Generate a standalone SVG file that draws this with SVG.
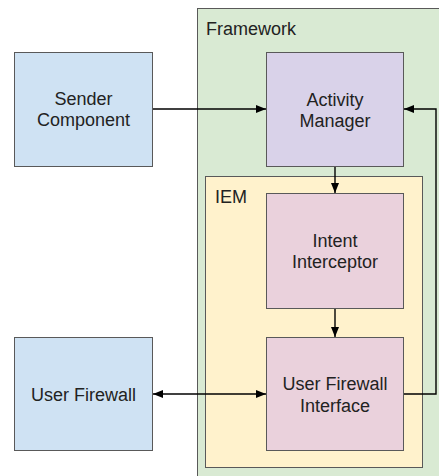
<svg xmlns="http://www.w3.org/2000/svg" width="439" height="476" viewBox="0 0 439 476">
  <style>
    .box { stroke: #595959; stroke-width: 1; }
    .label { font-family: "Liberation Sans", Arial, sans-serif; font-size: 18px; fill: #222; }
    .mid { text-anchor: middle; }
    .wire { fill: none; stroke: #000; stroke-width: 1.4; }
  </style>
  <defs>
    <marker id="head" viewBox="0 0 10 8" refX="10" refY="4" markerWidth="10" markerHeight="8" markerUnits="userSpaceOnUse" orient="auto-start-reverse">
      <path d="M0,0 L10,4 L0,8 Z" fill="#000"/>
    </marker>
  </defs>

  <rect width="439" height="476" fill="#fff"/>

  <g id="framework">
    <rect class="box" x="197.5" y="8.5" width="260" height="480" fill="#d9ead3"/>
    <text class="label" x="206" y="35">Framework</text>
  </g>

  <g id="iem">
    <rect class="box" x="205.5" y="176.5" width="217" height="291" fill="#fff2cc"/>
    <text class="label" x="215" y="203">IEM</text>
  </g>

  <g id="sender-component">
    <rect class="box" x="14.5" y="52.5" width="138" height="114" fill="#cfe2f3"/>
    <text class="label mid" x="83.5" y="105">Sender</text>
    <text class="label mid" x="83.5" y="126">Component</text>
  </g>

  <g id="activity-manager">
    <rect class="box" x="266.5" y="52.5" width="137" height="114" fill="#d9d2e9"/>
    <text class="label mid" x="335" y="106">Activity</text>
    <text class="label mid" x="335" y="127">Manager</text>
  </g>

  <g id="intent-interceptor">
    <rect class="box" x="266.5" y="193.5" width="137" height="115" fill="#ead1dc"/>
    <text class="label mid" x="335" y="247">Intent</text>
    <text class="label mid" x="335" y="268">Interceptor</text>
  </g>

  <g id="user-firewall-interface">
    <rect class="box" x="266.5" y="337.5" width="137" height="113" fill="#ead1dc"/>
    <text class="label mid" x="335" y="390">User Firewall</text>
    <text class="label mid" x="335" y="412">Interface</text>
  </g>

  <g id="user-firewall">
    <rect class="box" x="14.5" y="337.5" width="138" height="113" fill="#cfe2f3"/>
    <text class="label mid" x="83.5" y="401">User Firewall</text>
  </g>

  <g id="connectors">
    <path class="wire" d="M153,109 H266" marker-end="url(#head)"/>
    <path class="wire" d="M335,167 V193" marker-end="url(#head)"/>
    <path class="wire" d="M335,309 V337" marker-end="url(#head)"/>
    <path class="wire" d="M153,394 H266" marker-start="url(#head)" marker-end="url(#head)"/>
    <path class="wire" d="M404,394 H436 V109 H404" marker-end="url(#head)"/>
  </g>
</svg>
